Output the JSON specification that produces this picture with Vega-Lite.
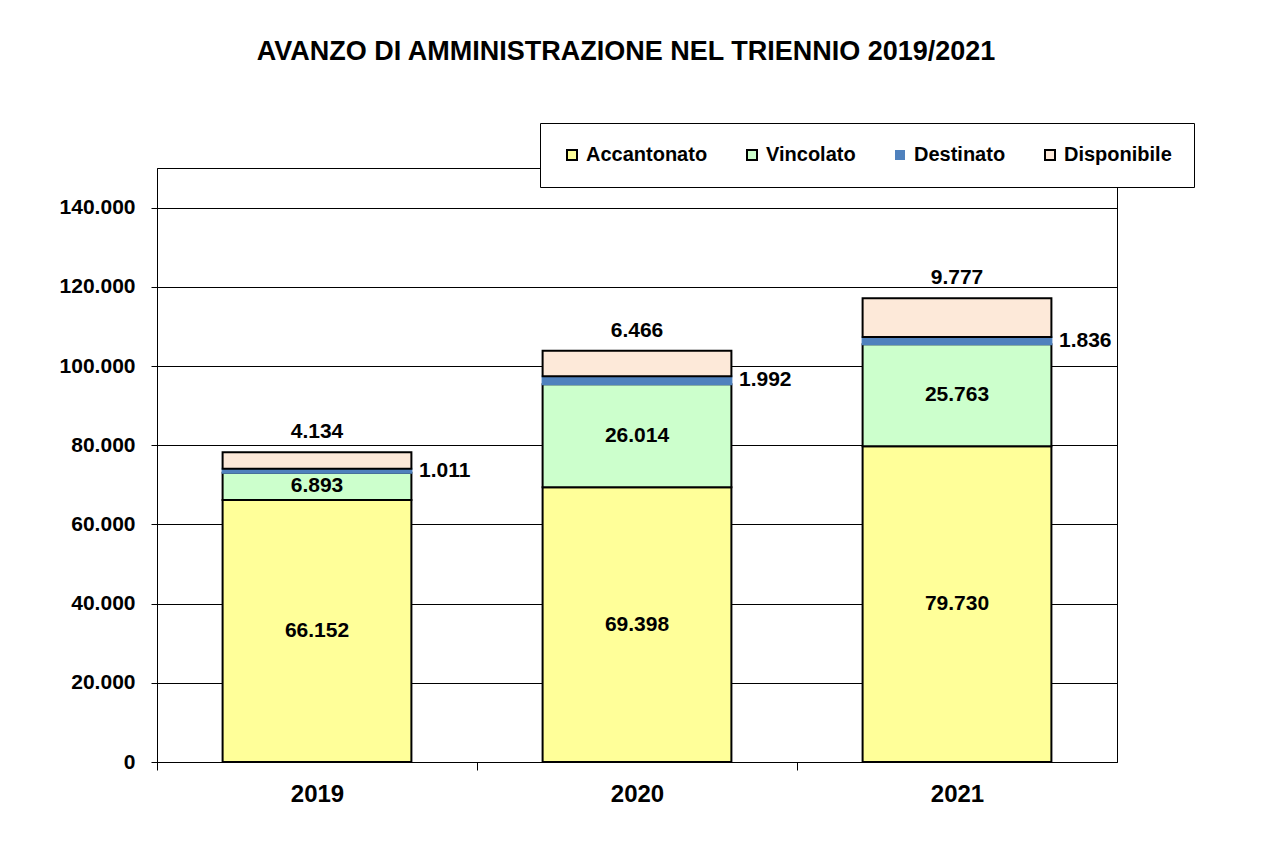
{
  "$schema": "https://vega.github.io/schema/vega-lite/v6.json",
  "width": 960,
  "height": 594,
  "autosize": {"type": "none"},
  "padding": {"left": 157, "top": 168, "right": 168, "bottom": 81},
  "background": "white",
  "config": {
    "font": "Liberation Sans",
    "locale": {"number": {"decimal": ",", "thousands": ".", "grouping": [3], "currency": ["€", ""]}},
    "view": {"stroke": "black", "strokeWidth": 1}
  },
  "title": {
    "text": "AVANZO DI AMMINISTRAZIONE NEL TRIENNIO 2019/2021",
    "fontSize": 27,
    "fontWeight": "bold",
    "anchor": "middle",
    "offset": 57,
    "dx": -11,
    "color": "black"
  },
  "data": {
    "values": [
      {"year": "2019", "cat": "Accantonato", "order": 1, "value": 66152},
      {"year": "2019", "cat": "Vincolato", "order": 2, "value": 6893},
      {"year": "2019", "cat": "Destinato", "order": 3, "value": 1011},
      {"year": "2019", "cat": "Disponibile", "order": 4, "value": 4134},
      {"year": "2020", "cat": "Accantonato", "order": 1, "value": 69398},
      {"year": "2020", "cat": "Vincolato", "order": 2, "value": 26014},
      {"year": "2020", "cat": "Destinato", "order": 3, "value": 1992},
      {"year": "2020", "cat": "Disponibile", "order": 4, "value": 6466},
      {"year": "2021", "cat": "Accantonato", "order": 1, "value": 79730},
      {"year": "2021", "cat": "Vincolato", "order": 2, "value": 25763},
      {"year": "2021", "cat": "Destinato", "order": 3, "value": 1836},
      {"year": "2021", "cat": "Disponibile", "order": 4, "value": 9777}
    ]
  },
  "transform": [
    {"stack": "value", "groupby": ["year"], "sort": [{"field": "order"}], "as": ["y0", "y1"]},
    {"calculate": "(datum.y0 + datum.y1) / 2", "as": "mid"}
  ],
  "encoding": {
    "x": {
      "field": "year",
      "type": "nominal",
      "scale": {"paddingInner": 0.41, "paddingOuter": 0.205},
      "axis": {
        "title": null,
        "labelAngle": 0,
        "labelFontSize": 24,
        "labelFontWeight": "bold",
        "labelColor": "black",
        "labelPadding": 12,
        "tickOffset": -160,
        "labelOffset": 160,
        "tickSize": 8,
        "tickColor": "black",
        "domainColor": "black",
        "grid": false
      }
    }
  },
  "layer": [
    {
      "mark": {"type": "bar", "strokeWidth": 2},
      "encoding": {
        "y": {
          "field": "y0",
          "type": "quantitative",
          "scale": {"domain": [0, 150000], "nice": false},
          "axis": {
            "title": null,
            "values": [0, 20000, 40000, 60000, 80000, 100000, 120000, 140000],
            "format": ",d",
            "labelFontSize": 21,
            "labelFontWeight": "bold",
            "labelColor": "black",
            "labelPadding": 16,
            "tickSize": 6,
            "tickColor": "black",
            "domainColor": "black",
            "grid": true,
            "gridColor": "black",
            "gridOpacity": 1,
            "gridWidth": 1
          }
        },
        "y2": {"field": "y1"},
        "fill": {
          "field": "cat",
          "type": "nominal",
          "scale": {
            "domain": ["Accantonato", "Vincolato", "Destinato", "Disponibile"],
            "range": ["#FFFF99", "#CCFFCC", "#4F81BD", "#FDE9D9"]
          },
          "legend": {
            "title": null,
            "orient": "none",
            "legendX": 383,
            "legendY": -45,
            "direction": "horizontal",
            "labelFontSize": 20,
            "labelFontWeight": "bold",
            "labelColor": "black",
            "labelOffset": 4,
            "symbolType": "square",
            "symbolSize": 100,
            "symbolStrokeColor": "black",
            "symbolStrokeWidth": 2,
            "symbolOpacity": 1,
            "padding": 22,
            "columnPadding": 34,
            "fillColor": "white",
            "strokeColor": "black",
            "encode": {
              "symbols": {
                "update": {
                  "stroke": {"signal": "datum.value === 'Destinato' ? null : 'black'"}
                }
              }
            }
          }
        },
        "stroke": {
          "condition": {"test": "datum.cat === 'Destinato'", "value": "#4F81BD"},
          "value": "black"
        }
      }
    },
    {
      "transform": [{"filter": "datum.cat === 'Accantonato' || datum.cat === 'Vincolato'"}],
      "mark": {"type": "text", "fontSize": 21, "fontWeight": "bold", "color": "black", "baseline": "middle"},
      "encoding": {
        "y": {"field": "mid", "type": "quantitative"},
        "text": {"field": "value", "type": "quantitative", "format": ",d"}
      }
    },
    {
      "transform": [{"filter": "datum.cat === 'Destinato'"}],
      "mark": {"type": "text", "fontSize": 21, "fontWeight": "bold", "color": "black", "baseline": "middle", "align": "left", "dx": 102},
      "encoding": {
        "y": {"field": "mid", "type": "quantitative"},
        "text": {"field": "value", "type": "quantitative", "format": ",d"}
      }
    },
    {
      "transform": [{"filter": "datum.cat === 'Disponibile'"}],
      "mark": {"type": "text", "fontSize": 21, "fontWeight": "bold", "color": "black", "baseline": "middle", "dy": -20},
      "encoding": {
        "y": {"field": "y1", "type": "quantitative"},
        "text": {"field": "value", "type": "quantitative", "format": ",d"}
      }
    }
  ]
}
